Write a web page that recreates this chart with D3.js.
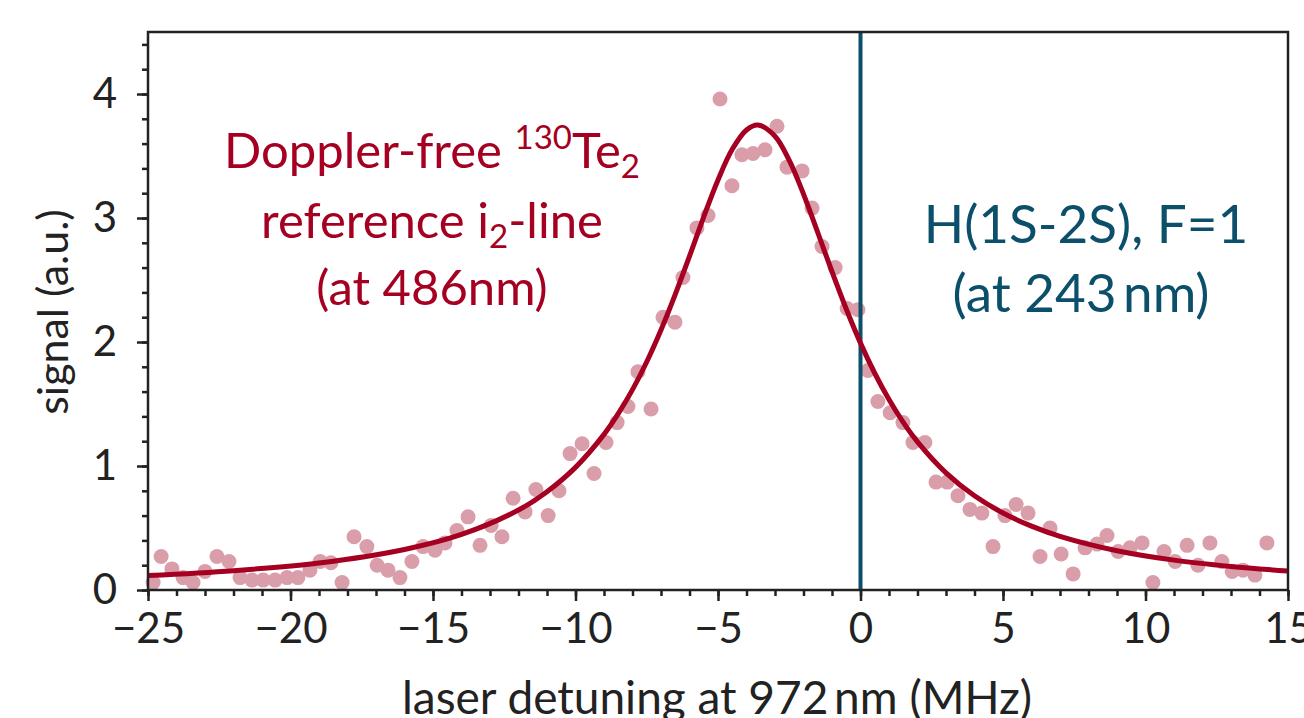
<!DOCTYPE html>
<html>
<head>
<meta charset="utf-8">
<script src="https://cdn.jsdelivr.net/npm/d3@7"></script>
<style>
  html, body { margin: 0; padding: 0; background: #fff; }
  svg { display: block; }
  text { font-family: "Lato", "Open Sans", sans-serif; }
</style>
</head>
<body>
<svg id="chart" width="1304" height="718"></svg>
<script>
// Measured data points (laser detuning in MHz, signal in a.u.)
const pointX = [-24.82,-24.54,-24.16,-23.77,-23.42,-23.00,-22.58,-22.16,-21.77,-21.35,-20.96,-20.54,-20.12,-19.74,-19.32,-18.96,-18.58,-18.19,-17.77,-17.32,-16.96,-16.58,-16.16,-15.74,-15.35,-14.93,-14.58,-14.16,-13.77,-13.35,-12.96,-12.58,-12.19,-11.77,-11.39,-10.96,-10.58,-10.19,-9.77,-9.35,-8.93,-8.54,-8.16,-7.81,-7.35,-6.93,-6.51,-6.23,-5.74,-5.35,-4.93,-4.51,-4.16,-3.77,-3.35,-2.93,-2.58,-2.05,-1.70,-1.35,-0.89,-0.47,-0.09,0.26,0.61,1.04,1.49,1.84,2.26,2.65,3.04,3.42,3.84,4.26,4.65,5.07,5.46,5.88,6.30,6.65,7.04,7.46,7.88,8.30,8.65,9.04,9.46,9.88,10.26,10.65,11.04,11.46,11.84,12.26,12.68,13.04,13.42,13.84,14.26];
const pointY = [0.06,0.27,0.17,0.10,0.06,0.15,0.27,0.23,0.10,0.08,0.08,0.08,0.10,0.10,0.16,0.23,0.22,0.06,0.43,0.35,0.20,0.16,0.10,0.23,0.35,0.32,0.38,0.48,0.59,0.36,0.52,0.43,0.74,0.63,0.81,0.60,0.80,1.10,1.18,0.94,1.19,1.35,1.48,1.76,1.46,2.20,2.16,2.52,2.92,3.02,3.96,3.26,3.51,3.52,3.55,3.74,3.41,3.38,3.08,2.77,2.60,2.27,2.26,1.77,1.52,1.43,1.35,1.19,1.19,0.87,0.87,0.76,0.65,0.62,0.35,0.60,0.69,0.62,0.27,0.50,0.29,0.13,0.34,0.37,0.44,0.31,0.34,0.38,0.06,0.31,0.23,0.36,0.20,0.38,0.23,0.15,0.16,0.12,0.38];

// Fitted line
const fitX = [-25,-22,-19,-16,-14,-12,-11,-10,-9,-8.5,-8,-7.5,-7,-6.5,-6,-5.5,-5,-4.5,-4,-3.6,-3,-2.5,-2,-1.5,-1,-0.5,0,0.5,1,1.5,2,3,4,5,6,7,9,11,13,15];
const fitY = [0.116,0.156,0.218,0.327,0.448,0.645,0.793,0.989,1.255,1.422,1.616,1.841,2.097,2.384,2.692,3.010,3.307,3.554,3.710,3.750,3.660,3.464,3.193,2.883,2.567,2.266,1.991,1.748,1.536,1.352,1.195,0.945,0.760,0.621,0.515,0.433,0.317,0.241,0.190,0.153];

const xTicks = [-25,-20,-15,-10,-5,0,5,10,15];
const yTicks = [0,1,2,3,4];
const markerX = [0];

const svg = d3.select("#chart");
const L = 148, R = 1288, T = 32, B = 590;
const x = d3.scaleLinear().domain([-25, 15]).range([L, R]);
const y = d3.scaleLinear().domain([0, 4.5]).range([B, T]);

const red = "#a50021";
const teal = "#0b4f6a";
const pink = "#d99ea9";

const plot = svg.append("g");

// points
plot.selectAll("circle.pt").data(pointX.map((v,i)=>[v, pointY[i]]))
  .enter().append("circle")
  .attr("class","pt")
  .attr("cx", d => x(d[0])).attr("cy", d => y(d[1]))
  .attr("r", 7.5).attr("fill", pink);

// vertical marker
plot.selectAll("line.marker").data(markerX).enter().append("line")
  .attr("class","marker")
  .attr("x1", d => x(d)).attr("x2", d => x(d))
  .attr("y1", T).attr("y2", B)
  .attr("stroke", teal).attr("stroke-width", 4);

// fit line
const line = d3.line().x(d => x(d[0])).y(d => y(d[1])).curve(d3.curveCatmullRom.alpha(0.5));
plot.append("path").datum(fitX.map((v,i)=>[v, fitY[i]]))
  .attr("d", line).attr("fill","none").attr("stroke", red).attr("stroke-width", 5)
  .attr("stroke-linejoin","round");

// axes
const fontSize = 42;
const xAxis = d3.axisBottom(x).tickValues(xTicks).tickFormat(d3.format("d")).tickSize(11).tickPadding(12);
const xMinor = d3.axisBottom(x).tickValues(d3.range(-25, 16, 1)).tickSize(6).tickFormat("");
const yAxis = d3.axisLeft(y).tickValues(yTicks).tickFormat(d3.format("d")).tickSize(11).tickPadding(20);
const yMinor = d3.axisLeft(y).tickValues(d3.range(0, 4.41, 0.2)).tickSize(6).tickFormat("");

function style(g) {
  g.select(".domain").remove();
  g.selectAll("line").attr("stroke", "#222").attr("stroke-width", 2.5);
  g.selectAll("text").attr("font-size", fontSize).attr("fill", "#222");
}
svg.append("g").attr("transform", `translate(0,${B})`).call(xMinor).call(style);
svg.append("g").attr("transform", `translate(0,${B})`).call(xAxis).call(style);
svg.append("g").attr("transform", `translate(${L},0)`).call(yMinor).call(style);
svg.append("g").attr("transform", `translate(${L},0)`).call(yAxis).call(style);

// frame
svg.append("rect").attr("x", L).attr("y", T).attr("width", R - L).attr("height", B - T)
  .attr("fill","none").attr("stroke","#222").attr("stroke-width", 2.5);

// axis labels
svg.append("text").attr("x", 717).attr("y", 714)
  .attr("text-anchor","middle").attr("font-size", 46).attr("fill","#222")
  .text("laser detuning at 972\u2009nm (MHz)");
svg.append("text").attr("transform", `translate(68,312) rotate(-90)`)
  .attr("text-anchor","middle").attr("font-size", 43).attr("fill","#222")
  .text("signal (a.u.)");

// annotations
const ann1 = svg.append("text").attr("fill", red).attr("font-size", 49).attr("text-anchor","middle");
const l1 = ann1.append("tspan").attr("x", 432).attr("y", 168);
l1.append("tspan").text("Doppler-free ");
l1.append("tspan").attr("font-size", 33).attr("dy", -19).text("130");
l1.append("tspan").attr("dy", 19).text("Te");
l1.append("tspan").attr("font-size", 33).attr("dy", 10).text("2");
const l2 = ann1.append("tspan").attr("x", 432).attr("y", 238);
l2.append("tspan").text("reference i");
l2.append("tspan").attr("font-size", 33).attr("dy", 10).text("2");
l2.append("tspan").attr("dy", -10).text("-line");
ann1.append("tspan").attr("x", 432).attr("y", 305).text("(at 486nm)");

const ann2 = svg.append("text").attr("fill", teal).attr("font-size", 53).attr("text-anchor","middle");
ann2.append("tspan").attr("x", 1086).attr("y", 243).text("H(1S-2S), F=1");
ann2.append("tspan").attr("x", 1081).attr("y", 312).text("(at 243\u2009nm)");
</script>
</body>
</html>
